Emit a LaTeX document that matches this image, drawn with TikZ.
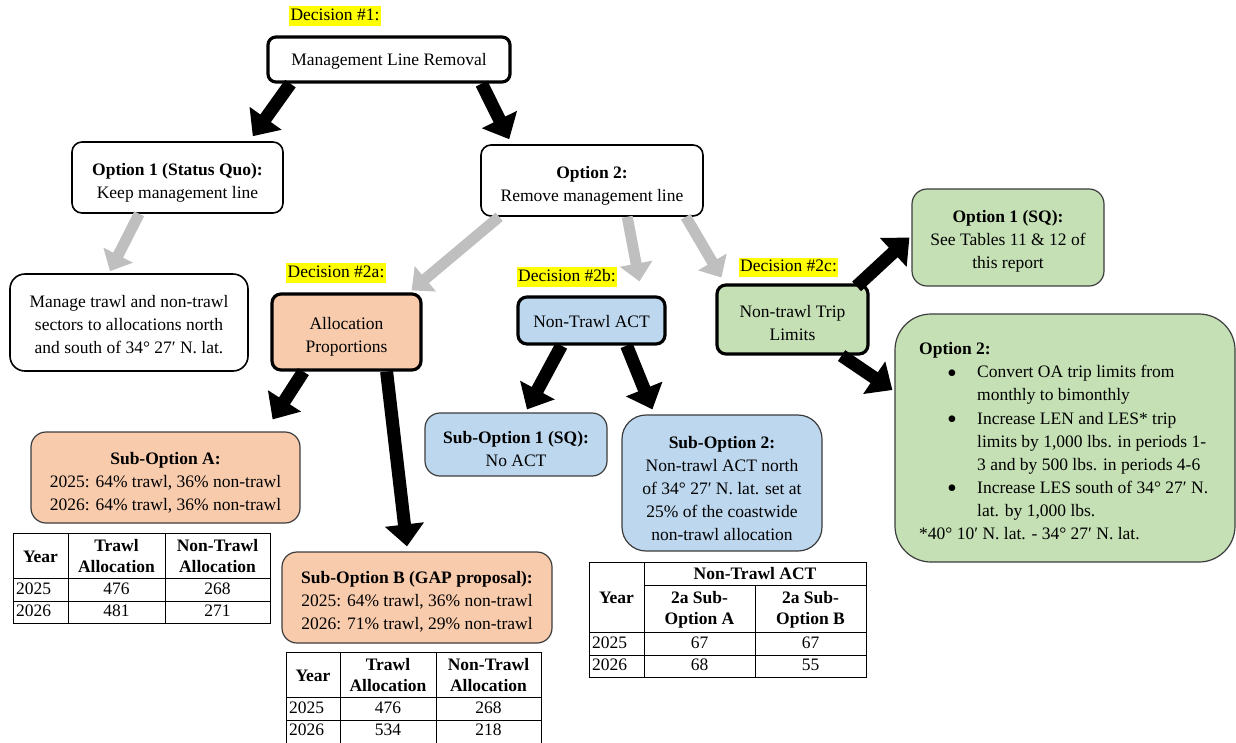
\documentclass[tikz,border=0pt]{standalone}
\usepackage{fontspec}
\setmainfont{Liberation Serif}
\usetikzlibrary{arrows.meta,calc}
\definecolor{hl}{RGB}{255,255,0}
\definecolor{peach}{RGB}{248,203,173}
\definecolor{bluef}{RGB}{189,215,238}
\definecolor{greenf}{RGB}{197,224,180}
\definecolor{grayarr}{RGB}{191,191,191}
\definecolor{bord}{RGB}{60,60,60}
\begin{document}
\begin{tikzpicture}[x=1pt,y=-1pt,
  every node/.style={font=\fontsize{17.5}{23}\selectfont, inner sep=0pt},
  lbl/.style={fill=hl, inner sep=1.5pt, text height=12.5pt, text depth=4pt},
  boxw/.style={draw=black, line width=1.6pt, rounded corners=10pt, fill=white},
  boxthick/.style={draw=black, line width=3.2pt, rounded corners=9pt},
  boxthin/.style={draw=bord, line width=1.2pt, rounded corners=15pt},
  btxt/.style={align=center},
  arrblack/.style={line width=13pt, -{Triangle[width=38pt,length=22pt]}},
  arrgray/.style={draw=grayarr, line width=11pt, -{Triangle[width=32pt,length=18pt]}},
  tbl/.style={line width=0.9pt},
  th/.style={font=\fontsize{17.5}{21}\selectfont\bfseries, align=center},
  td/.style={text height=12.5pt, text depth=4pt},
  tdl/.style={text height=12.5pt, text depth=4pt, anchor=west},
  ln/.style={anchor=west, text height=12.5pt, text depth=4pt},
  bul/.style={anchor=base, font=\fontsize{28}{28}\selectfont}
]
\useasboundingbox (0,0) rectangle (1236,742);

% ---------- labels ----------
\node[lbl] (dec1) at (335,16) {Decision \#1:};
\node[lbl] (dec2a) at (336,273) {Decision \#2a:};
\node[lbl] (dec2b) at (567,277) {Decision \#2b:};
\node[lbl] (dec2c) at (788.5,267.5) {Decision \#2c:};

% ---------- boxes ----------
\node[boxw, line width=3.2pt, rounded corners=8pt, minimum width=242, minimum height=45] (top) at (389,59.5) {};
\node[btxt] (topT) at ([yshift=-2pt]top.center) {Management Line Removal};
\node[boxw, minimum width=211, minimum height=71] (opt1) at (177.5,177.5) {};
\node[btxt] (opt1T) at ([yshift=-5pt]opt1.center) {\textbf{Option 1 (Status Quo):}\\Keep management line};
\node[boxw, minimum width=222, minimum height=71] (opt2) at (592,180.5) {};
\node[btxt] (opt2T) at ([yshift=-5pt]opt2.center) {\textbf{Option 2:}\\Remove management line};
\node[boxw, rounded corners=15pt, minimum width=238, minimum height=97] (manage) at (129,322.5) {};
\node[btxt] (manageT) at ([yshift=-2.5pt]manage.center) {Manage trawl and non-trawl\\sectors to allocations north\\and south of 34° 27′ N. lat.};

\node[boxthick, fill=peach, minimum width=149, minimum height=76] (alloc) at (346.5,332) {};
\node[btxt] (allocT) at ([yshift=-4.5pt]alloc.center) {Allocation\\Proportions};
\node[boxthick, fill=bluef, minimum width=147, minimum height=47] (ntact) at (591.5,320.5) {};
\node[btxt] (ntactT) at ([yshift=-1pt]ntact.center) {Non-Trawl ACT};
\node[boxthick, fill=greenf, minimum width=151, minimum height=69] (trip) at (792.5,319.5) {};
\node[btxt] (tripT) at ([yshift=-3.5pt]trip.center) {Non-trawl Trip\\Limits};

\node[boxthin, fill=greenf, minimum width=192, minimum height=97] (sq) at (1008,237.5) {};
\node[btxt] (sqT) at ([yshift=-4pt]sq.center) {\textbf{Option 1 (SQ):}\\See Tables 11 \& 12 of\\this report};
\node[boxthin, fill=greenf, rounded corners=36pt, minimum width=340, minimum height=248] (opt2c) at (1065,438) {};

\node[boxthin, fill=peach, minimum width=269, minimum height=91] (subA) at (165.5,477.5) {};
\node[btxt] (subAT) at ([yshift=-5pt]subA.center) {\textbf{Sub-Option A:}\\2025: 64\% trawl, 36\% non-trawl\\2026: 64\% trawl, 36\% non-trawl};
\node[boxthin, fill=peach, minimum width=270, minimum height=91] (subB) at (417,597.5) {};
\node[btxt] (subBT) at ([yshift=-4pt]subB.center) {\textbf{Sub-Option B (GAP proposal):}\\2025: 64\% trawl, 36\% non-trawl\\2026: 71\% trawl, 29\% non-trawl};
\node[boxthin, fill=bluef, minimum width=182, minimum height=63] (sub1) at (516,444.5) {};
\node[btxt] (sub1T) at ([yshift=-4.5pt]sub1.center) {\textbf{Sub-Option 1 (SQ):}\\No ACT};
\node[boxthin, fill=bluef, rounded corners=24pt, minimum width=200, minimum height=136] (sub2) at (722,483) {};
\node[btxt] (sub2T) at ([yshift=-5.5pt]sub2.center) {\textbf{Sub-Option 2:}\\Non-trawl ACT north\\of 34° 27′ N. lat. set at\\25\% of the coastwide\\non-trawl allocation};

% ---------- Option 2 (trip limits) text ----------
\node[ln, font=\fontsize{17.5}{23}\selectfont\bfseries] (o2h) at (919,350) {Option 2:};
\node[bul] (b1) at (952,382) {•};
\node[ln] (l1) at (977,373.5) {Convert OA trip limits from};
\node[ln] (l2) at (977,396.5) {monthly to bimonthly};
\node[bul] (b2) at (952,428.5) {•};
\node[ln] (l3) at (977,420.5) {Increase LEN and LES* trip};
\node[ln] (l4) at (977,443.5) {limits by 1,000 lbs. in periods 1-};
\node[ln] (l5) at (977,466.5) {3 and by 500 lbs. in periods 4-6};
\node[bul] (b3) at (952,497.5) {•};
\node[ln] (l6) at (977,489.5) {Increase LES south of 34° 27′ N.};
\node[ln] (l7) at (977,512.5) {lat. by 1,000 lbs.};
\node[ln] (l8) at (919,535.5) {*40° 10′ N. lat. - 34° 27′ N. lat.};

% ---------- arrows ----------
\draw[arrblack] ([shift={(24,0)}]top.south west) -- ([shift={(-31,-5)}]opt1.north east);
\draw[arrblack] ([shift={(-30,0)}]top.south east) -- ([shift={(29,-5)}]opt2.north west);
\draw[arrgray] ([shift={(68,0)}]opt1.south west) -- ([shift={(-19,-2)}]manage.north);
\draw[arrgray] ([shift={(19,0)}]opt2.south west) -- ([shift={(-11,-2)}]alloc.north east);
\draw[arrgray] ([shift={(147,0)}]opt2.south west) -- ([shift={(48,-14)}]ntact.north);
\draw[arrgray] ([shift={(-18,0)}]opt2.south east) -- ([shift={(-17,10)}]dec2c.west);
\draw[arrblack] ([shift={(33,0)}]alloc.south west) -- ([shift={(-28,-12)}]subA.north east);
\draw[arrblack] ([shift={(-36,0)}]alloc.south east) -- ([shift={(-10,-5)}]subB.north);
\draw[arrblack] ([shift={(45,0)}]ntact.south west) -- ([shift={(11,-3)}]sub1.north);
\draw[arrblack] ([shift={(-40,0)}]ntact.south east) -- ([shift={(31,-5)}]sub2.north west);
\draw[arrblack] ([shift={(-13,3)}]trip.north east) -- ([shift={(-2,0)}]sq.west);
\draw[arrblack] ([shift={(-28,0)}]trip.south east) -- ([shift={(-2,-48)}]opt2c.west);

% ---------- Table A ----------
\draw[tbl] (13,533) rectangle (270,623);
\draw[tbl] (68,533) -- (68,623) (165,533) -- (165,623) (13,578) -- (270,578) (13,601) -- (270,601);
\node[th] (taY) at (40.5,556.5) {Year};
\node[th] (taT) at (116.5,556.5) {Trawl\\Allocation};
\node[th] (taN) at (217.5,556.5) {Non-Trawl\\Allocation};
\node[tdl] (ta1) at (16,590) {2025};
\node[td] (ta2) at (116.5,590) {476};
\node[td] (ta3) at (217.5,590) {268};
\node[tdl] (ta4) at (16,612.5) {2026};
\node[td] (ta5) at (116.5,612.5) {481};
\node[td] (ta6) at (217.5,612.5) {271};

% ---------- Table B ----------
\draw[tbl] (286,652) rectangle (541,744);
\draw[tbl] (340,652) -- (340,744) (436,652) -- (436,744) (286,697) -- (541,697) (286,720) -- (541,720);
\node[th] (tbY) at (313,675.5) {Year};
\node[th] (tbT) at (388,675.5) {Trawl\\Allocation};
\node[th] (tbN) at (488.5,675.5) {Non-Trawl\\Allocation};
\node[tdl] (tb1) at (289,709) {2025};
\node[td] (tb2) at (388,709) {476};
\node[td] (tb3) at (488.5,709) {268};
\node[tdl] (tb4) at (289,731.5) {2026};
\node[td] (tb5) at (388,731.5) {534};
\node[td] (tb6) at (488.5,731.5) {218};

% ---------- Table C ----------
\draw[tbl] (589,562) rectangle (866,677);
\draw[tbl] (644,562) -- (644,677) (755,585) -- (755,677) (644,585) -- (866,585) (589,632) -- (866,632) (589,655) -- (866,655);
\node[th] (tcH) at (755,574) {Non-Trawl ACT};
\node[th] (tcY) at (616.5,598) {Year};
\node[th] (tcA) at (699.5,609.5) {2a Sub-\\Option A};
\node[th] (tcB) at (810.5,609.5) {2a Sub-\\Option B};
\node[tdl] (tc1) at (592,644) {2025};
\node[td] (tc2) at (699.5,644) {67};
\node[td] (tc3) at (810.5,644) {67};
\node[tdl] (tc4) at (592,666.5) {2026};
\node[td] (tc5) at (699.5,666.5) {68};
\node[td] (tc6) at (810.5,666.5) {55};
\end{tikzpicture}
\end{document}
